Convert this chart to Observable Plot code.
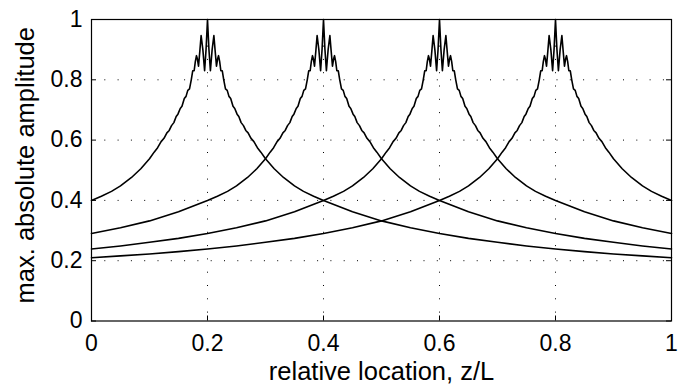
<!DOCTYPE html>
<html>
<head>
<meta charset="utf-8">
<script src="https://cdn.jsdelivr.net/npm/d3@7"></script>
<script src="https://cdn.jsdelivr.net/npm/@observablehq/plot@0.6"></script>
<style>
  html, body { margin: 0; padding: 0; background: white; }
</style>
</head>
<body>
<div id="chart"></div>
<script>
// Peak locations of the four curves (relative location z/L)
const peaks = [0.2, 0.4, 0.6, 0.8];

const dist = [0, 0.0025, 0.005, 0.008, 0.011, 0.013, 0.0155, 0.0175, 0.019, 0.021, 0.023, 0.0255,
  0.028, 0.031, 0.034, 0.037, 0.040, 0.044, 0.047, 0.051, 0.054, 0.058, 0.062, 0.066, 0.070,
  0.075, 0.080, 0.086, 0.092, 0.100, 0.115, 0.131, 0.150, 0.1655, 0.183, 0.200,
  0.25, 0.30, 0.35, 0.40, 0.45, 0.50, 0.55, 0.60, 0.65, 0.70, 0.75, 0.80];
const amp = [1.00, 0.90, 0.83, 0.90, 0.947, 0.90, 0.845, 0.87, 0.88, 0.86, 0.83, 0.83,
  0.80, 0.77, 0.765, 0.745, 0.738, 0.712, 0.705, 0.686, 0.678, 0.658, 0.648, 0.632, 0.624,
  0.606, 0.595, 0.575, 0.560, 0.538, 0.505, 0.476, 0.448, 0.430, 0.414, 0.400,
  0.362, 0.332, 0.309, 0.290, 0.274, 0.261, 0.249, 0.239, 0.230, 0.222, 0.216, 0.210];

const xTicks = [0, 0.2, 0.4, 0.6, 0.8, 1];
const yTicks = [0, 0.2, 0.4, 0.6, 0.8, 1];
const xLabel = "relative location, z/L";
const yLabel = "max. absolute amplitude";

// Build the table of curve points
const rows = [];
for (const p of peaks) {
  const pts = [];
  dist.forEach((d, i) => {
    if (p - d >= -1e-9) pts.push({x: Math.max(0, p - d), y: amp[i], peak: p});
    if (d > 0 && p + d <= 1 + 1e-9) pts.push({x: Math.min(1, p + d), y: amp[i], peak: p});
  });
  pts.sort((a, b) => a.x - b.x);
  rows.push(...pts);
}

const W = 695, H = 385, ML = 91, MR = 24, MT = 19, MB = 64.5;
const innerW = W - ML - MR, innerH = H - MT - MB;
const tickLen = 5;
const dots = "1,12.3";
const fmt = d => `${d}`;

const chart = Plot.plot({
  width: W, height: H,
  marginLeft: ML, marginRight: MR, marginTop: MT, marginBottom: MB,
  style: {fontFamily: "'Liberation Sans', Arial, Helvetica, sans-serif", fontSize: "23px", color: "black", background: "white"},
  x: {domain: [0, 1]},
  y: {domain: [0, 1]},
  marks: [
    Plot.gridX(xTicks.slice(1, -1), {stroke: "black", strokeOpacity: 1, strokeWidth: 1, strokeDasharray: dots}),
    Plot.gridY(yTicks.slice(1, -1), {stroke: "black", strokeOpacity: 1, strokeWidth: 1, strokeDasharray: dots}),
    Plot.tickX(xTicks, {x: d => d, insetTop: innerH - tickLen, stroke: "black"}),
    Plot.tickX(xTicks, {x: d => d, insetBottom: innerH - tickLen, stroke: "black"}),
    Plot.tickY(yTicks, {y: d => d, insetRight: innerW - tickLen, stroke: "black"}),
    Plot.tickY(yTicks, {y: d => d, insetLeft: innerW - tickLen, stroke: "black"}),
    Plot.line(rows, {x: "x", y: "y", z: "peak", stroke: "black", strokeWidth: 1.6}),
    Plot.frame({stroke: "black", strokeWidth: 1.2}),
    Plot.axisX(xTicks, {tickSize: 0, tickPadding: 14, label: null, fontSize: 23, tickFormat: fmt}),
    Plot.axisY(yTicks, {tickSize: 0, tickPadding: 9, label: null, fontSize: 23, tickFormat: fmt}),
    Plot.text([xLabel], {text: d => d, frameAnchor: "bottom", textAnchor: "middle", lineAnchor: "bottom", dy: 59, fontSize: 25.5, fill: "black"}),
    Plot.text([yLabel], {text: d => d, frameAnchor: "left", textAnchor: "middle", rotate: -90, lineAnchor: "bottom", dx: -58, dy: -5, fontSize: 25.5, fill: "black"})
  ]
});
document.getElementById("chart").appendChild(chart);
</script>
</body>
</html>
